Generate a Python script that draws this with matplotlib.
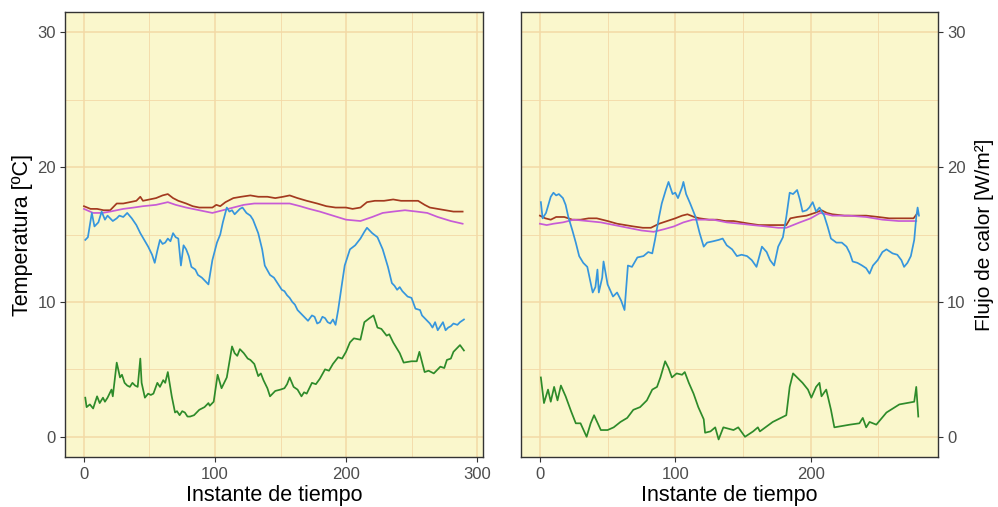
import matplotlib
matplotlib.use("Agg")
import matplotlib.pyplot as plt

plt.rcParams['font.family'] = ['Liberation Sans', 'DejaVu Sans']

# ---- panel izquierdo ----
izq_marron_t = [0, 5, 10, 15, 20, 25, 30, 35, 40, 43, 45, 50, 55, 60, 64, 68, 72, 78, 83, 88, 93, 98,
                101, 104, 108, 114, 120, 127, 133, 140, 146, 152, 157, 163, 170, 178, 185, 192, 200,
                205, 211, 216, 222, 229, 236, 242, 248, 255, 260, 264, 270, 276, 282, 289]
izq_marron = [17.1, 16.9, 16.9, 16.8, 16.8, 17.3, 17.3, 17.4, 17.5, 17.8, 17.5, 17.6, 17.7, 17.9, 18.0,
              17.7, 17.5, 17.3, 17.1, 17.0, 17.0, 17.0, 17.2, 17.1, 17.4, 17.7, 17.8, 17.9, 17.8, 17.8,
              17.7, 17.8, 17.9, 17.7, 17.5, 17.3, 17.1, 17.0, 17.0, 16.9, 17.0, 17.4, 17.5, 17.5, 17.6,
              17.5, 17.5, 17.5, 17.2, 17.0, 16.9, 16.8, 16.7, 16.7]

izq_magenta_t = [0, 7, 14, 20, 30, 38, 45, 55, 64, 70, 78, 88, 98, 106, 114, 122, 130, 140, 150, 157,
                 165, 172, 180, 190, 200, 211, 220, 228, 236, 245, 254, 262, 270, 280, 289]
izq_magenta = [16.9, 16.6, 16.6, 16.7, 16.9, 17.0, 17.1, 17.2, 17.4, 17.2, 17.0, 16.8, 16.6, 16.8, 17.0,
               17.2, 17.3, 17.3, 17.3, 17.3, 17.1, 16.9, 16.7, 16.4, 16.1, 16.0, 16.3, 16.6, 16.7, 16.8,
               16.7, 16.6, 16.3, 16.0, 15.8]

izq_azul_t = [1, 3, 6, 8, 11, 13.5, 16, 18, 20, 22, 25, 27, 30, 33, 36.5, 40, 43, 46, 49, 52, 54, 56, 58,
              60, 62, 64, 66, 68, 70, 72, 74, 76, 78, 80, 82, 85, 87, 90, 92, 95, 98, 101.5, 104, 106, 109,
              111, 113, 115, 117, 119, 121, 124, 127, 129, 133, 136, 138, 142, 145, 147, 151, 153, 155,
              157, 159, 161, 163, 165, 167, 169, 171, 174, 176, 178, 180, 182, 184, 186, 188, 190, 192,
              194, 197, 199, 203, 207, 211, 214, 216, 218, 220, 224, 228, 232, 235, 237, 239, 241, 243,
              245, 247, 250, 253, 256.5, 258, 260, 262, 264, 266, 268, 270, 272, 274, 276, 278, 280, 282,
              285, 287, 290]
izq_azul = [14.6, 14.8, 16.6, 15.6, 15.9, 16.7, 16.1, 16.4, 16.2, 16.0, 16.2, 16.4, 16.3, 16.6, 16.2,
            15.7, 15.1, 14.6, 14.1, 13.5, 12.9, 13.8, 14.6, 14.3, 14.4, 14.7, 14.5, 15.1, 14.8, 14.7, 12.7,
            14.2, 13.9, 13.4, 12.6, 12.4, 12.0, 11.8, 11.6, 11.3, 13.1, 14.4, 15.0, 15.9, 17.0, 16.7, 16.8,
            16.5, 16.7, 16.9, 17.0, 16.6, 16.4, 16.1, 15.1, 13.9, 12.7, 12.0, 11.8, 11.5, 10.9, 10.8, 10.5,
            10.3, 10.0, 9.8, 9.4, 9.2, 9.0, 8.8, 8.6, 9.0, 8.9, 8.4, 8.5, 8.9, 8.8, 8.5, 8.4, 8.7, 8.3,
            9.4, 11.4, 12.7, 13.9, 14.2, 14.7, 15.2, 15.5, 15.3, 15.1, 14.8, 13.9, 12.6, 11.4, 11.2, 10.9,
            11.1, 10.8, 10.6, 10.4, 10.3, 9.5, 9.4, 9.0, 8.8, 8.6, 8.4, 8.1, 8.5, 7.9, 8.2, 8.5, 7.9,
            8.1, 8.2, 8.4, 8.3, 8.5, 8.7]

izq_verde_t = [1, 2, 4.5, 7, 10, 12, 14.5, 16, 18, 21, 22, 25, 27.5, 29, 31, 33, 35, 37, 39, 41, 43, 44,
               46.5, 49, 51, 53, 56, 58, 60.5, 62, 64, 67, 69.5, 71, 73, 75, 77, 79, 81, 84, 88, 92, 95,
               96, 99, 102, 105, 109, 113, 115, 117, 119, 122, 125, 127, 130, 133, 135, 137, 140, 142, 146,
               150, 153, 155, 157, 160, 163, 166, 168, 170, 174, 177, 180, 184, 187, 190, 194, 197, 200,
               203, 206, 211, 214, 218, 221, 224, 227, 231, 233, 236, 241, 244, 250, 254, 256, 260, 263,
               267, 270, 272, 275, 277, 280, 282, 287, 290]
izq_verde = [2.9, 2.2, 2.4, 2.1, 3.0, 2.5, 2.9, 2.6, 2.9, 3.5, 3.0, 5.5, 4.4, 4.6, 4.0, 3.8, 3.7, 4.0,
             3.8, 3.7, 5.8, 4.0, 2.9, 3.2, 3.1, 3.2, 4.0, 3.7, 4.2, 4.0, 4.8, 3.0, 1.8, 1.9, 1.6, 1.9, 1.8,
             1.5, 1.5, 1.6, 2.0, 2.2, 2.5, 2.3, 2.6, 4.6, 3.6, 4.4, 6.7, 6.2, 6.0, 6.5, 6.2, 5.8, 5.7, 5.4,
             4.5, 4.7, 4.2, 3.6, 3.0, 3.4, 3.5, 3.6, 3.9, 4.4, 3.7, 3.5, 3.0, 3.3, 3.2, 4.0, 3.9, 4.3,
             5.0, 4.9, 5.4, 5.9, 5.8, 6.3, 7.0, 7.3, 7.2, 8.5, 8.8, 9.0, 8.1, 8.0, 7.5, 7.6, 7.0, 6.2,
             5.5, 5.6, 5.6, 6.3, 4.8, 4.9, 4.7, 5.0, 5.2, 5.1, 5.7, 5.8, 6.3, 6.8, 6.4]

# ---- panel derecho ----
der_marron_t = [0, 4, 8, 12, 18, 24, 30, 36, 42, 50, 57, 63, 69, 76, 82, 88, 94, 100, 105, 109, 114, 118,
                125, 131, 137, 143, 149, 155, 162, 170, 177, 182, 185, 190, 197, 203, 208, 212, 216, 225,
                233, 241, 250, 258, 265, 272, 276, 279]
der_marron = [16.4, 16.2, 16.1, 16.3, 16.3, 16.1, 16.1, 16.2, 16.2, 16.0, 15.8, 15.7, 15.6, 15.5, 15.5,
              15.8, 16.0, 16.2, 16.4, 16.5, 16.3, 16.2, 16.1, 16.1, 16.0, 16.0, 15.9, 15.8, 15.7, 15.7,
              15.7, 15.7, 16.2, 16.3, 16.4, 16.6, 16.8, 16.6, 16.5, 16.4, 16.4, 16.4, 16.3, 16.2, 16.2,
              16.2, 16.2, 16.6]

der_magenta_t = [0, 5, 10, 17, 25, 35, 45, 55, 65, 75, 84, 92, 99, 106, 113, 120, 128, 138, 148, 157, 167,
                 176, 182, 187, 192, 200, 207, 212, 216, 228, 241, 253, 265, 278]
der_magenta = [15.8, 15.7, 15.8, 15.9, 16.1, 16.0, 15.9, 15.7, 15.5, 15.3, 15.2, 15.4, 15.6, 15.9, 16.1,
               16.1, 16.1, 15.9, 15.8, 15.7, 15.6, 15.5, 15.5, 15.7, 15.9, 16.2, 16.6, 16.5, 16.4, 16.4,
               16.3, 16.1, 16.0, 16.0]

der_azul_t = [0.7, 2, 4.5, 8, 10, 12, 14, 17, 19, 21, 24, 26.5, 29, 32, 35, 37.5, 39, 41, 42.5, 43.5, 46,
              47, 50, 54, 57, 60, 62.5, 65, 68, 72, 76.5, 80, 83, 85, 88, 90, 93, 95, 98, 100, 102, 105,
              106, 108, 111, 115, 118, 121, 123.5, 128, 132, 135, 138, 142, 145.5, 149, 153, 156.5, 160,
              164, 167.5, 170, 173, 176, 179.5, 182, 184.5, 187, 190, 192, 194, 197, 199, 201.5, 204,
              206.5, 210, 212.5, 215, 219, 223, 226.5, 229, 231, 234.5, 238, 241, 243.5, 246, 249.5, 253,
              256, 260.5, 264, 267, 269, 271.5, 274, 276.5, 278, 279, 280]
der_azul = [17.4, 16.2, 16.6, 17.8, 18.1, 17.9, 18.0, 17.7, 17.2, 16.3, 15.3, 14.4, 13.4, 12.9, 12.6,
            11.4, 10.7, 11.1, 12.4, 10.7, 11.8, 13.0, 11.3, 10.4, 10.7, 10.1, 9.4, 12.7, 12.6, 13.3, 13.4,
            13.7, 13.6, 14.6, 16.3, 17.3, 18.3, 18.9, 18.0, 18.1, 17.7, 18.5, 18.9, 18.0, 17.3, 16.3, 15.1,
            14.1, 14.4, 14.5, 14.6, 14.7, 14.2, 13.9, 13.4, 13.5, 13.4, 13.1, 12.6, 14.1, 13.7, 13.1, 12.7,
            14.1, 14.8, 16.3, 18.1, 18.0, 18.3, 17.6, 16.7, 16.8, 17.0, 17.4, 16.7, 17.0, 16.4, 15.6, 14.7,
            14.4, 14.4, 14.1, 13.6, 13.0, 12.9, 12.7, 12.5, 12.1, 12.7, 13.1, 13.7, 13.9, 13.6, 13.5, 13.1,
            12.6, 12.9, 13.4, 14.6, 16.3, 17.0, 16.4]

der_verde_t = [0.7, 3, 6, 8, 10.5, 13, 15.5, 19, 23, 26.5, 30, 34.5, 37.5, 40, 45, 50, 54.5, 59.5, 64.5,
               69, 74, 79, 83, 86.5, 89, 92.5, 95, 97.5, 101, 105, 107, 110, 113.5, 117, 121, 122, 126,
               129.5, 132, 135.5, 143, 146.5, 151.5, 157.5, 161, 162.5, 172, 182, 184.5, 187, 190, 194, 198,
               200.5, 204, 206.5, 208, 211.5, 215, 217.5, 229, 236, 238.5, 241, 243.5, 248.5, 256, 265.5,
               276.5, 278, 279.5]
der_verde = [4.4, 2.5, 3.5, 2.6, 3.7, 2.7, 3.8, 3.0, 1.9, 1.0, 1.0, 0.0, 1.0, 1.6, 0.5, 0.5, 0.7, 1.1, 1.4,
             2.0, 2.2, 2.7, 3.5, 3.7, 4.4, 5.6, 5.1, 4.4, 4.7, 4.6, 4.8, 4.0, 3.2, 2.2, 1.3, 0.3, 0.4, 0.7,
             -0.2, 0.7, 0.5, 0.7, 0.0, 0.4, 0.7, 0.4, 1.1, 1.6, 3.7, 4.7, 4.4, 4.0, 3.5, 2.9, 3.7, 4.0, 3.0,
             3.5, 2.0, 0.7, 0.9, 1.0, 1.4, 0.7, 1.1, 0.9, 1.8, 2.4, 2.6, 3.7, 1.5]

yticks = [0, 10, 20, 30]

c_marron = '#A33A1F'
c_magenta = '#C75BD6'
c_azul = '#3696DD'
c_verde = '#2E8B2A'
fondo = '#FAF7CC'
rejilla = '#F3D9A6'
gris = '#4D4D4D'

fig = plt.figure(figsize=(9.98, 5.07), dpi=100)
ax1 = fig.add_axes([0.0651, 0.0986, 0.4188, 0.8777])
ax2 = fig.add_axes([0.5220, 0.0986, 0.4178, 0.8777])


def estilo(ax, xmax, xticks):
    ax.set_facecolor(fondo)
    ax.set_ylim(-1.5, 31.5)
    ax.set_xlim(-0.05 * xmax, 1.05 * xmax)
    ax.set_yticks(yticks)
    ax.set_yticks([5, 15, 25], minor=True)
    ax.set_xticks(xticks)
    ax.set_xticks([50, 150, 250], minor=True)
    ax.grid(which='major', color=rejilla, lw=1.1, zorder=0)
    ax.grid(which='minor', color=rejilla, lw=0.6, zorder=0)
    ax.set_axisbelow(True)
    for s in ax.spines.values():
        s.set_color('#333333')
        s.set_linewidth(1.0)
    ax.tick_params(which='major', length=3.5, width=0.8, color='#333333', labelcolor=gris,
                   labelsize=12, pad=3)
    ax.tick_params(axis='x', which='major', pad=4)
    ax.tick_params(which='minor', length=0)
    ax.set_xlabel('Instante de tiempo', fontsize=15.5, labelpad=2)


for ax, datos in [(ax1, [(izq_marron_t, izq_marron, c_marron), (izq_magenta_t, izq_magenta, c_magenta),
                         (izq_azul_t, izq_azul, c_azul), (izq_verde_t, izq_verde, c_verde)]),
                  (ax2, [(der_marron_t, der_marron, c_marron), (der_magenta_t, der_magenta, c_magenta),
                         (der_azul_t, der_azul, c_azul), (der_verde_t, der_verde, c_verde)])]:
    for t, v, c in datos:
        ax.plot(t, v, color=c, lw=1.25, zorder=3)

estilo(ax1, 290, [0, 100, 200, 300])
estilo(ax2, 280, [0, 100, 200])

ax1.set_ylabel('Temperatura [ºC]', fontsize=15.5, labelpad=3)

ax2.yaxis.tick_right()
ax2.yaxis.set_label_position('right')
ax2.set_ylabel('Flujo de calor [W/m²]', fontsize=15, labelpad=7)

fig.savefig('out.png', dpi=100, facecolor='white')
